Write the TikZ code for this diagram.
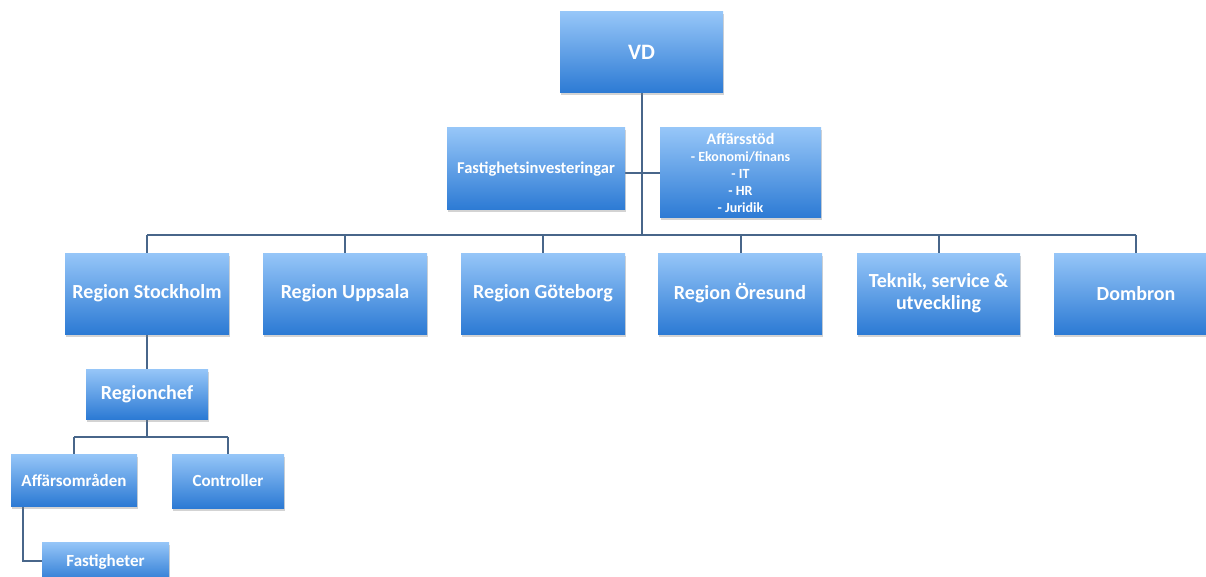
\documentclass[tikz,border=0pt]{standalone}
\usepackage{fontspec}
\setmainfont{Carlito}
\usetikzlibrary{shadows,calc}
\definecolor{boxtop}{RGB}{150,198,248}
\definecolor{boxbot}{RGB}{44,122,212}
\definecolor{linkc}{RGB}{72,102,138}
\tikzset{
  orgbox/.style={rectangle, inner sep=2pt, align=center, text=white,
    font=\bfseries, top color=boxtop, bottom color=boxbot, draw=none,
    drop shadow={opacity=0.35, shadow xshift=1pt, shadow yshift=-2.5pt}},
  link/.style={draw=linkc, line width=1.1pt}
}
\newcommand{\orgnode}[7]{% name, font size, x1, y1, x2, y2, text
  \node[orgbox, font=\bfseries\fontsize{#2}{\dimexpr #2pt*6/5\relax}\selectfont,
    minimum width=#5-#3, minimum height=#6-#4] (#1) at ({(#3+#5)/2},{(#4+#6)/2}) {#7};}
\begin{document}
\begin{tikzpicture}[x=1pt,y=-1pt]
\useasboundingbox (0,0) rectangle (1206,577);
\begin{scope}
\clip (0,0) rectangle (1206,577);
% connectors
\coordinate (vdbus) at (642,235);
\coordinate (busL) at (147,235);
\coordinate (busR) at (1136,235);
\coordinate (rcbus) at (147,437);
\coordinate (rcL) at (74,437);
\coordinate (rcR) at (228,437);
\coordinate (fsbend) at (23,561);

\draw[link] (642,93) -- (vdbus);
\draw[link] (busL) -- (busR);
\foreach \cx in {147,345,543,741,939,1136}{
  \draw[link] (\cx,235) -- (\cx,253);
}
\draw[link] (625,173) -- (660,173);
\draw[link] (147,334) -- (147,369);
\draw[link] (147,419) -- (rcbus);
\draw[link] (rcL) -- (rcR);
\draw[link] (rcL) -- (74,455);
\draw[link] (rcR) -- (228,455);
\draw[link] (23,506) -- (fsbend) -- (42,561);

% boxes
\orgnode{vd}{22}{560}{12}{723}{93}{VD}
\orgnode{fi}{16.5}{447}{128}{625}{210}{Fastighetsinvesteringar}
\node[orgbox, font=\bfseries\fontsize{14}{16.8}\selectfont,
  minimum width=161, minimum height=90] (as) at (740.5,173)
  {{\fontsize{16}{16.8}\selectfont Affärsstöd}\\ - Ekonomi/finans\\ - IT\\ - HR\\ - Juridik};
\orgnode{rs}{20}{65}{253}{229}{334}{Region Stockholm}
\orgnode{ru}{20}{263}{253}{427}{334}{Region Uppsala}
\orgnode{rg}{20}{461}{253}{625}{334}{Region Göteborg}
\orgnode{ro}{20}{658}{253}{822}{334}{Region Öresund}
\node[orgbox, font=\bfseries\fontsize{20}{22}\selectfont,
  minimum width=163, minimum height=81] (rt) at (938.5,293.5)
  {Teknik, service \&\\ utveckling};
\orgnode{rd}{20}{1054}{253}{1218}{334}{Dombron}
\orgnode{rc}{20}{86}{369}{208}{419}{Regionchef}
\orgnode{ao}{17}{11}{454}{137}{506}{Affärsområden}
\orgnode{ct}{17}{172}{454}{284}{508}{Controller}
\orgnode{fs}{17}{42}{542}{169}{582}{Fastigheter}
\end{scope}
\end{tikzpicture}
\end{document}
